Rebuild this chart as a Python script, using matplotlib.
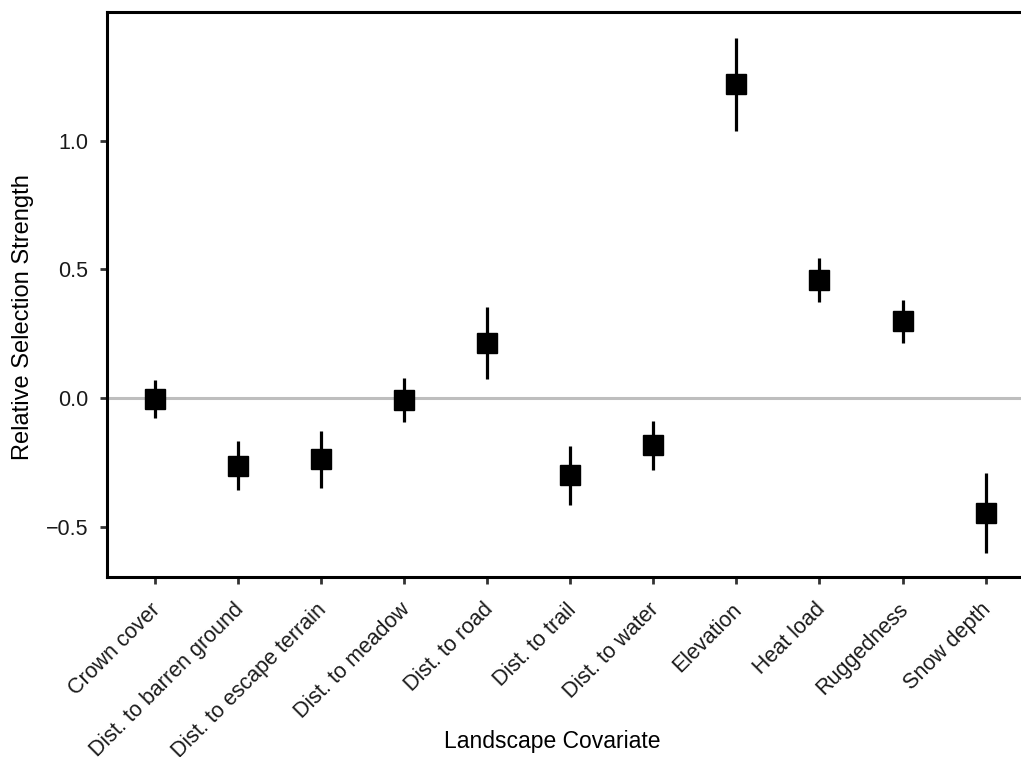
import matplotlib
matplotlib.use("Agg")
import matplotlib.pyplot as plt
import matplotlib.transforms as mtransforms

plt.rcParams['font.family'] = ['Liberation Sans', 'DejaVu Sans']

# --- data ---
covariates = ["Crown cover", "Dist. to barren ground", "Dist. to escape terrain",
              "Dist. to meadow", "Dist. to road", "Dist. to trail", "Dist. to water",
              "Elevation", "Heat load", "Ruggedness", "Snow depth"]
estimate = [-0.005, -0.264, -0.237, -0.008, 0.214, -0.300, -0.183, 1.219, 0.458, 0.299, -0.447]
lower = [-0.078, -0.357, -0.350, -0.093, 0.074, -0.416, -0.280, 1.037, 0.373, 0.214, -0.602]
upper = [0.070, -0.167, -0.128, 0.078, 0.355, -0.186, -0.089, 1.398, 0.544, 0.380, -0.291]

yticks = [-0.5, 0.0, 0.5, 1.0]

fig = plt.figure(figsize=(10.21, 7.57), dpi=100)
ax = fig.add_axes([0.1048, 0.2378, 0.8952 + 0.01, 0.7462])

x = list(range(1, len(covariates) + 1))
err_lo = [e - l for e, l in zip(estimate, lower)]
err_hi = [u - e for e, u in zip(estimate, upper)]

ax.axhline(0, color="#bebebe", lw=2.2, zorder=1)
ax.errorbar(x, estimate, yerr=[err_lo, err_hi], fmt="s", color="black",
            ms=15, elinewidth=2.3, capsize=0, zorder=3)

ax.set_xlim(0.42, 11.55)
ax.set_ylim(-0.695, 1.5)
ax.set_xticks(x)
ax.set_xticklabels(covariates, rotation=45, ha="right", rotation_mode="anchor")
ax.set_yticks(yticks)
ax.set_yticklabels(["\u22120.5", "0.0", "0.5", "1.0"])

for s in ["left", "bottom", "top"]:
    ax.spines[s].set_linewidth(2.2)
ax.spines["right"].set_visible(False)

ax.tick_params(axis="both", length=5, width=2, color="#333333", labelsize=15.5,
               labelcolor="#1a1a1a")
ax.tick_params(axis="x", pad=11)
ax.tick_params(axis="y", pad=8.5)

# nudge rotated labels a bit to the left, like the reference
shift = mtransforms.ScaledTranslation(-5 / 100, 0, fig.dpi_scale_trans)
for lab in ax.get_xticklabels():
    lab.set_transform(lab.get_transform() + shift)

ax.set_xlabel("Landscape Covariate", fontsize=16.5)
ax.set_ylabel("Relative Selection Strength", fontsize=17)
ax.xaxis.set_label_coords(0.482, -0.271)
ax.yaxis.set_label_coords(-0.079, 0.46)

fig.savefig("out.png", dpi=100)
